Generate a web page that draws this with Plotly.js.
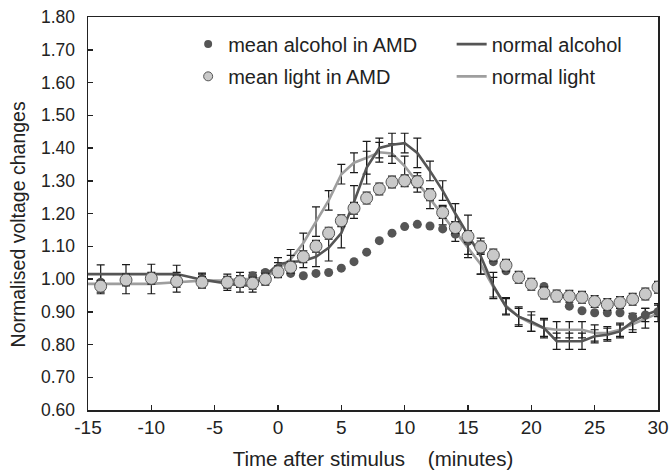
<!DOCTYPE html>
<html>
<head>
<meta charset="utf-8">
<script src="https://cdn.plot.ly/plotly-3.0.1.min.js"></script>
<style>html,body{margin:0;padding:0;background:#fff;}#chart{width:670px;height:472px;}</style>
</head>
<body>
<div id="chart"></div>
<script>
// Time points (minutes after stimulus)
const timeAMD = [-14,-12,-10,-8,-6,-4,-3,-2,-1,0,1,2,3,4,5,6,7,8,9,10,11,12,13,14,15,16,17,18,19,20,21,22,23,24,25,26,27,28,29,30];
const timeNormal = [-15,-14,-12,-10,-8,-6,-4,-3,-2,-1,0,1,2,3,4,5,6,7,8,9,10,11,12,13,14,15,16,17,18,19,20,21,22,23,24,25,26,27,28,29,30];

// mean alcohol in AMD
const alcoholAMD = [0.99,0.99,1.0,1.0,1.0,0.99,0.995,1.01,1.02,1.025,1.017,1.01,1.017,1.02,1.033,1.053,1.082,1.117,1.14,1.16,1.167,1.162,1.153,1.137,1.115,1.09,1.053,1.025,1.0,0.985,0.977,0.945,0.917,0.903,0.897,0.897,0.897,0.885,0.89,0.9];
// mean light in AMD
const lightAMD = [0.978,0.997,1.002,0.993,0.99,0.99,0.992,0.987,0.999,1.022,1.036,1.068,1.10,1.14,1.178,1.216,1.247,1.275,1.296,1.30,1.297,1.257,1.203,1.157,1.13,1.098,1.073,1.042,1.005,0.984,0.957,0.948,0.947,0.944,0.931,0.922,0.928,0.938,0.954,0.975];
const lightAMDErr = [0.018,0.018,0.018,0.018,0.018,0.018,0.018,0.018,0.018,0.018,0.018,0.018,0.018,0.018,0.018,0.018,0.018,0.018,0.018,0.018,0.018,0.018,0.018,0.018,0.018,0.018,0.018,0.018,0.018,0.018,0.018,0.018,0.018,0.018,0.018,0.018,0.018,0.018,0.018,0.018];

// normal alcohol
const alcoholNormal = [1.015,1.015,1.017,1.017,1.015,0.998,0.985,0.98,0.98,1.01,1.045,1.052,1.055,1.068,1.095,1.14,1.235,1.34,1.40,1.41,1.415,1.385,1.33,1.27,1.20,1.135,1.07,0.98,0.915,0.885,0.87,0.85,0.81,0.81,0.81,0.825,0.83,0.84,0.87,0.89,0.905];
const alcoholNormalErr = [NaN,0.028,0.027,0.028,0.027,0.02,0.02,0.02,0.02,0.015,0.02,0.02,0.02,0.03,0.04,0.045,0.05,0.05,0.03,0.035,0.03,0.045,0.03,0.03,0.03,0.06,0.055,0.04,0.025,0.03,0.03,0.03,0.025,0.025,0.025,0.02,0.02,0.02,0.025,0.02,0.02];
// normal light
const lightNormal = [0.985,0.985,0.985,0.985,0.99,0.995,0.995,1.0,1.0,1.005,1.03,1.06,1.11,1.175,1.24,1.32,1.355,1.37,1.387,1.383,1.345,1.295,1.245,1.195,1.145,1.095,1.045,0.975,0.918,0.885,0.865,0.85,0.845,0.845,0.845,0.835,0.835,0.845,0.862,0.88,0.895];
const lightNormalErr = [NaN,0.03,0.03,0.03,0.03,0.02,0.02,0.02,0.02,0.02,0.02,0.03,0.03,0.045,0.03,0.03,0.03,0.05,0.03,0.03,0.03,0.03,0.03,0.03,0.03,0.03,0.03,0.03,0.025,0.025,0.025,0.025,0.025,0.025,0.025,0.025,0.02,0.02,0.025,0.03,0.025];

const names = ['mean alcohol in AMD','normal alcohol','mean light in AMD','normal light'];
const xTicks = [-15,-10,-5,0,5,10,15,20,25,30];
const xTitle = 'Time after stimulus\u00a0\u00a0\u00a0\u00a0(minutes)';
const yTitle = 'Normalised voltage changes';

const DARK = '#555555', LIGHTLINE = '#9e9e9e', LIGHTFILL = '#c9c9c9', ERR = '#1a1a1a';
const FONT = 'Liberation Sans, Arial, Helvetica, sans-serif';

const eb = (arr) => ({type:'data', array:arr, visible:true, color:ERR, thickness:1.2, width:4});

const traces = [
  {x:timeNormal, y:lightNormal, mode:'lines', line:{color:LIGHTLINE, width:2.6}, error_y:eb(lightNormalErr), showlegend:false, hoverinfo:'skip'},
  {x:timeNormal, y:alcoholNormal, mode:'lines', line:{color:DARK, width:2.6}, error_y:eb(alcoholNormalErr), showlegend:false, hoverinfo:'skip'},
  {x:timeAMD, y:alcoholAMD, mode:'markers', marker:{color:DARK, size:9}, showlegend:false},
  {x:timeAMD, y:lightAMD, mode:'markers', marker:{color:LIGHTFILL, size:12, line:{color:DARK, width:1}}, error_y:eb(lightAMDErr), showlegend:false},
  // legend entries
  {x:[null], y:[null], name:names[0], mode:'markers', marker:{color:DARK, size:8}, legend:'legend'},
  {x:[null], y:[null], name:names[1], mode:'lines', line:{color:DARK, width:2.6}, legend:'legend2'},
  {x:[null], y:[null], name:names[2], mode:'markers', marker:{color:LIGHTFILL, size:9, line:{color:DARK, width:1}}, legend:'legend3'},
  {x:[null], y:[null], name:names[3], mode:'lines', line:{color:LIGHTLINE, width:2.6}, legend:'legend4'}
];

const legBase = {bgcolor:'rgba(0,0,0,0)', borderwidth:0, font:{family:FONT, size:20, color:'#222'}, xanchor:'left', yanchor:'middle'};
const c1 = 0.1757, c2 = 0.638, r1 = 0.931, r2 = 0.849;

const layout = {
  width:670, height:472,
  margin:{l:88, r:12, t:17, b:62},
  paper_bgcolor:'#fff', plot_bgcolor:'#fff',
  font:{family:FONT, size:19, color:'#222'},
  xaxis:{range:[-15,30], tickvals:xTicks, ticktext:xTicks.map(String), showgrid:false, zeroline:false,
    showline:true, linecolor:'#222', linewidth:1.5, mirror:true, ticks:'inside', ticklen:5, tickcolor:'#222', tickwidth:1.5,
    tickfont:{size:19}, title:{text:xTitle, font:{size:20.5}, standoff:14}},
  yaxis:{range:[0.6,1.8], dtick:0.1, tick0:0.6, tickformat:'.2f', showgrid:false, zeroline:false,
    showline:true, linecolor:'#222', linewidth:1.5, mirror:true, ticks:'inside', ticklen:5, tickcolor:'#222', tickwidth:1.5,
    tickfont:{size:17.5}, ticklabelstandoff:8},
  annotations:[{text:yTitle, xref:'paper', yref:'paper', x:-0.123, y:0.472, xanchor:'center', yanchor:'middle',
    textangle:-90, showarrow:false, font:{family:FONT, size:19.5, color:'#222'}}],
  legend:Object.assign({}, legBase, {x:c1, y:r1}),
  legend2:Object.assign({}, legBase, {x:c2, y:r1}),
  legend3:Object.assign({}, legBase, {x:c1, y:r2}),
  legend4:Object.assign({}, legBase, {x:c2, y:r2}),
  showlegend:true
};

Plotly.newPlot('chart', traces, layout, {staticPlot:true, displayModeBar:false});
</script>
</body>
</html>
